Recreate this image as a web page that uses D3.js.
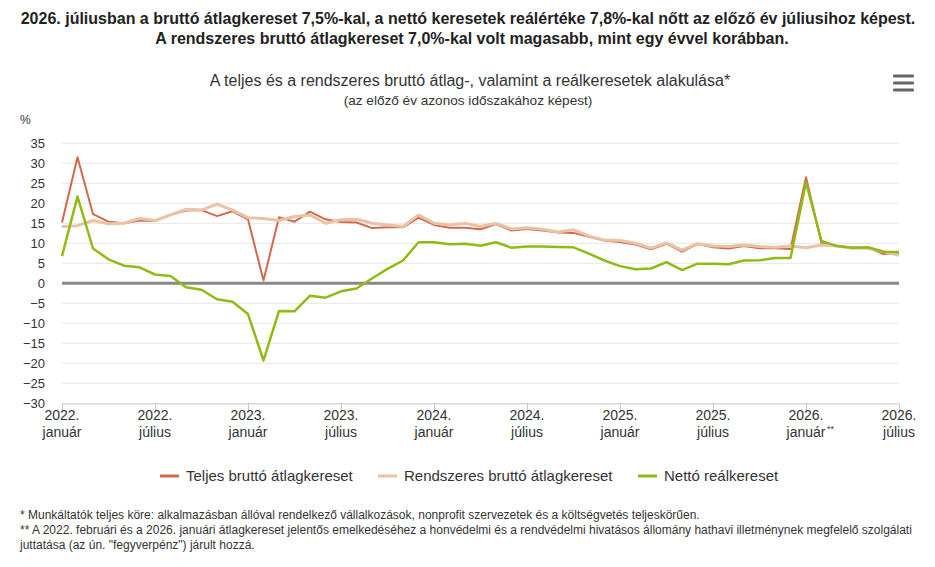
<!DOCTYPE html>
<html>
<head>
<meta charset="utf-8">
<script src="https://cdn.jsdelivr.net/npm/d3@7"></script>
<style>
body { margin: 0; background: #fff; }
svg { font-family: Arial, "Liberation Sans", sans-serif; }
</style>
</head>
<body>
<div id="chart"></div>
<script>
// honapok 2022.01 - 2026.07
var months = [
 "2022.01","2022.02","2022.03","2022.04","2022.05","2022.06","2022.07","2022.08","2022.09","2022.10","2022.11","2022.12",
 "2023.01","2023.02","2023.03","2023.04","2023.05","2023.06","2023.07","2023.08","2023.09","2023.10","2023.11","2023.12",
 "2024.01","2024.02","2024.03","2024.04","2024.05","2024.06","2024.07","2024.08","2024.09","2024.10","2024.11","2024.12",
 "2025.01","2025.02","2025.03","2025.04","2025.05","2025.06","2025.07","2025.08","2025.09","2025.10","2025.11","2025.12",
 "2026.01","2026.02","2026.03","2026.04","2026.05","2026.06","2026.07"];

var teljes = [15.2,31.5,17.3,15.4,15.0,15.7,15.6,17.1,18.2,18.3,16.8,18.0,
 16.0,0.7,16.5,15.4,17.9,16.0,15.3,15.2,13.8,14.0,14.0,16.4,
 14.6,13.9,13.9,13.5,14.8,13.2,13.6,13.2,12.7,12.6,11.6,10.7,
 10.3,9.7,8.5,9.9,7.9,9.8,9.0,8.7,9.3,8.75,8.75,8.6,
 26.5,10.0,9.3,8.9,8.9,7.3,7.5];

var rendszeres = [14.2,14.4,15.7,14.9,15.0,16.2,15.7,17.1,18.5,18.3,19.8,18.3,
 16.4,16.2,15.7,16.7,17.1,15.0,15.9,16.0,15.0,14.6,14.2,17.1,
 15.0,14.6,15.0,14.2,15.0,13.6,13.9,13.5,12.8,13.4,11.8,10.8,
 10.7,10.0,8.8,10.1,8.3,9.9,9.3,9.2,9.6,9.2,9.0,9.3,
 8.9,9.6,9.3,8.75,8.75,7.9,7.0];

var netto = [6.8,21.7,8.7,6.0,4.4,4.0,2.2,1.8,-1.0,-1.6,-4.0,-4.6,
 -7.7,-19.3,-6.9,-7.0,-3.1,-3.6,-2.0,-1.3,1.2,3.6,5.7,10.25,
 10.25,9.75,9.9,9.4,10.25,8.9,9.2,9.2,9.1,9.0,7.4,5.7,
 4.3,3.5,3.7,5.3,3.3,4.9,4.9,4.75,5.7,5.75,6.3,6.3,
 25.2,10.6,9.3,8.9,9.0,7.9,7.8];

var tickMonths = ["2022.01","2022.07","2023.01","2023.07","2024.01","2024.07","2025.01","2025.07","2026.01","2026.07"];
var tickLabels = [["2022.","január"],["2022.","július"],["2023.","január"],["2023.","július"],["2024.","január"],
 ["2024.","július"],["2025.","január"],["2025.","július"],["2026.","január"],["2026.","július"]];
var yTicks = [35,30,25,20,15,10,5,0,-5,-10,-15,-20,-25,-30];

var seriesNames = ["Teljes bruttó átlagkereset","Rendszeres bruttó átlagkereset","Nettó reálkereset"];
var seriesColors = ["#cf6a4f","#e8c3a6","#8fbb14"];

var W = 935, H = 567;
var svg = d3.select("#chart").append("svg").attr("width", W).attr("height", H);

var x = d3.scalePoint().domain(months).range([62, 899]);
var y = d3.scaleLinear().domain([-30, 35]).range([403.3, 143.3]);

// cimek
svg.append("text").attr("x", 468).attr("y", 24).attr("text-anchor", "middle")
 .attr("font-size", 16).attr("font-weight", "bold").attr("fill", "#222")
 .text("2026. júliusban a bruttó átlagkereset 7,5%-kal, a nettó keresetek reálértéke 7,8%-kal nőtt az előző év júliusihoz képest.");
svg.append("text").attr("x", 472).attr("y", 44).attr("text-anchor", "middle")
 .attr("font-size", 16).attr("font-weight", "bold").attr("fill", "#222")
 .text("A rendszeres bruttó átlagkereset 7,0%-kal volt magasabb, mint egy évvel korábban.");
svg.append("text").attr("x", 470).attr("y", 86).attr("text-anchor", "middle")
 .attr("font-size", 16).attr("fill", "#333")
 .text("A teljes és a rendszeres bruttó átlag-, valamint a reálkeresetek alakulása*");
svg.append("text").attr("x", 468).attr("y", 105).attr("text-anchor", "middle")
 .attr("font-size", 13.6).attr("fill", "#333")
 .text("(az előző év azonos időszakához képest)");
svg.append("text").attr("x", 20).attr("y", 124).attr("font-size", 12).attr("fill", "#333").text("%");

// menu ikon
[76, 83, 90].forEach(function(yy) {
  svg.append("rect").attr("x", 893).attr("y", yy - 1.5).attr("width", 21).attr("height", 3)
   .attr("rx", 1).attr("fill", "#666");
});

// racsvonalak
svg.append("g").selectAll("line").data(yTicks.filter(function(d) { return d !== 0 && d !== -30; }))
 .enter().append("line")
 .attr("x1", 62).attr("x2", 899)
 .attr("y1", function(d) { return y(d); }).attr("y2", function(d) { return y(d); })
 .attr("stroke", "#e6e6e6").attr("stroke-width", 1);

// y tengely
var yaxis = d3.axisLeft(y).tickValues(yTicks).tickSize(0).tickPadding(0)
 .tickFormat(function(d) { return d < 0 ? "\u2212" + Math.abs(d) : d; });
var gy = svg.append("g").attr("transform", "translate(45,0)").call(yaxis);
gy.select(".domain").remove();
gy.selectAll("text").attr("font-size", 13).attr("fill", "#333").attr("font-family", "Arial, 'Liberation Sans', sans-serif");

// x tengely
var xaxis = d3.axisBottom(x).tickValues(tickMonths).tickSize(9).tickFormat("");
var gx = svg.append("g").attr("transform", "translate(0," + y(-30) + ")").call(xaxis);
gx.select(".domain").attr("stroke", "#c8c8c8").attr("d", "M62,0.5H899");
gx.selectAll(".tick line").attr("stroke", "#c8c8c8");

var xl = svg.append("g").selectAll("text").data(tickMonths).enter().append("text")
 .attr("x", function(d) { return x(d); }).attr("y", 420)
 .attr("text-anchor", "middle").attr("font-size", 14).attr("fill", "#333");
xl.append("tspan").attr("x", function(d) { return x(d); }).attr("dy", 0)
 .text(function(d, i) { return tickLabels[i][0]; });
xl.append("tspan").attr("x", function(d) { return x(d); }).attr("dy", 17)
 .text(function(d, i) { return tickLabels[i][1]; });
svg.append("text").attr("x", x("2026.01") + 21).attr("y", 432).attr("font-size", 9).attr("fill", "#333").text("**");

// nulla vonal
svg.append("line").attr("x1", 62).attr("x2", 899).attr("y1", y(0)).attr("y2", y(0))
 .attr("stroke", "#888").attr("stroke-width", 3);

// vonalak
var line = d3.line()
 .x(function(d, i) { return x(months[i]); })
 .y(function(d) { return y(d); });

var widths = [2, 3, 2.5];
[teljes, rendszeres, netto].forEach(function(s, k) {
  svg.append("path").datum(s)
   .attr("d", line).attr("fill", "none")
   .attr("stroke", seriesColors[k]).attr("stroke-width", widths[k])
   .attr("stroke-linejoin", "round");
});

// jelmagyarazat
var legX = [160, 378, 638];
seriesNames.forEach(function(n, k) {
  svg.append("line").attr("x1", legX[k]).attr("x2", legX[k] + 19).attr("y1", 476).attr("y2", 476)
   .attr("stroke", seriesColors[k]).attr("stroke-width", 3);
  svg.append("text").attr("x", legX[k] + 26).attr("y", 481).attr("font-size", 15).attr("fill", "#333").text(n);
});

// labjegyzet
var notes = ["* Munkáltatók teljes köre: alkalmazásban állóval rendelkező vállalkozások, nonprofit szervezetek és a költségvetés teljeskörűen.",
 "** A 2022. februári és a 2026. januári átlagkereset jelentős emelkedéséhez a honvédelmi és a rendvédelmi hivatásos állomány hathavi illetménynek megfelelő szolgálati",
 "juttatása (az ún. \"fegyverpénz\") járult hozzá."];
notes.forEach(function(t, i) {
  svg.append("text").attr("x", 20).attr("y", 519 + i * 15).attr("font-size", 12).attr("fill", "#333").text(t);
});
</script>
</body>
</html>
